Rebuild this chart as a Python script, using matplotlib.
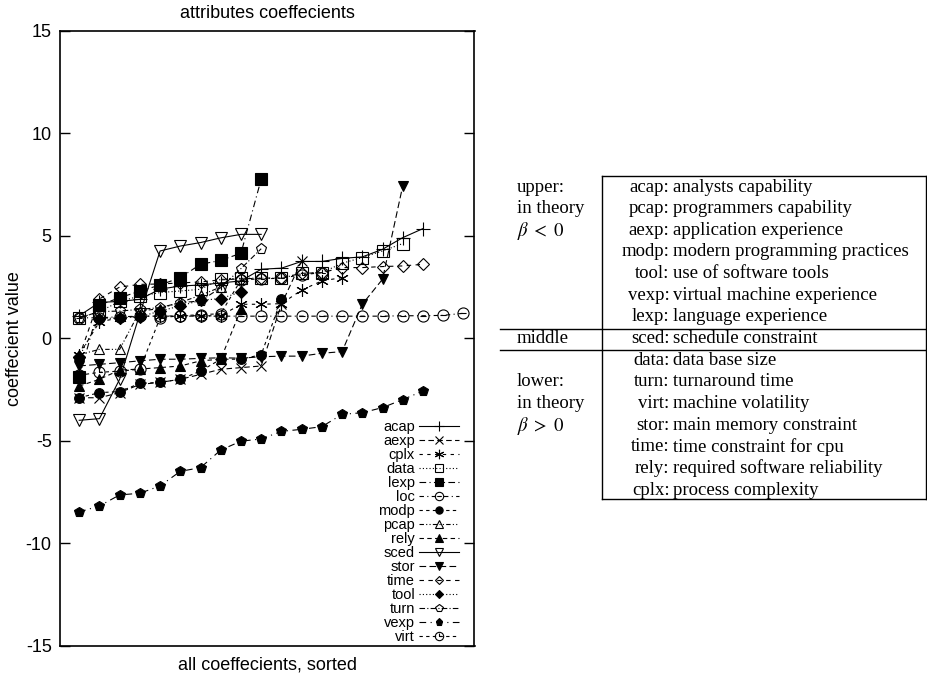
import numpy as np
import matplotlib
matplotlib.use("Agg")
import matplotlib.pyplot as plt
from matplotlib.path import Path

plt.rcParams['font.family'] = ['Liberation Sans', 'DejaVu Sans']
plt.rcParams['mathtext.fontset'] = 'stix'

# ---------------- data (each series sorted ascending) ----------------
acap = [1.1, 1.75, 1.8, 1.9, 2.4, 2.55, 2.6, 2.7, 2.8, 3.37, 3.42, 3.75, 3.75, 3.9, 3.97, 4.34, 4.91, 5.35]
aexp = [-2.9, -2.9, -2.65, -2.25, -2.15, -2.0, -1.76, -1.51, -1.43, -1.35, 1.66, 3.77]
cplx = [-0.8, 0.8, 1.0, 1.08, 1.08, 1.1, 1.1, 1.1, 1.66, 1.66, 1.69, 2.35, 2.8, 2.96]
data = [1.0, 1.3, 1.8, 2.06, 2.23, 2.31, 2.39, 2.88, 2.93, 2.93, 2.93, 3.17, 3.2, 3.66, 3.94, 4.26, 4.62]
lexp = [-1.9, 1.62, 1.98, 2.3, 2.6, 2.96, 3.61, 3.8, 4.15, 7.76]
loc = [1.0, 1.0, 1.05, 1.08, 1.08, 1.08, 1.08, 1.08, 1.08, 1.08, 1.08, 1.08, 1.08, 1.08, 1.08, 1.08, 1.1, 1.1, 1.12, 1.22]
modp = [-2.9, -2.65, -2.6, -2.2, -2.15, -2.0, -1.6, -1.02, -1.02, -0.8, 1.92]
pcap = [-0.8, -0.54, -0.54, 1.33, 1.45, 1.75, 2.1, 2.5]
rely = [-2.33, -2.0, -1.55, -1.5, -1.43, -1.35, -1.1, -1.02, 1.41]
sced = [-4.0, -3.92, -2.0, 1.2, 4.26, 4.5, 4.67, 4.9, 5.07, 5.07]
stor = [-1.35, -1.27, -1.19, -1.1, -1.02, -1.02, -0.98, -0.95, -0.97, -0.9, -0.87, -0.87, -0.73, -0.65, 1.66, 2.88, 7.43]
time = [-0.9, 1.92, 2.5, 2.63, 2.65, 2.7, 2.75, 2.85, 2.9, 2.93, 2.95, 3.17, 3.2, 3.45, 3.45, 3.5, 3.53, 3.61]
tool = [-0.9, 0.95, 1.0, 1.05, 1.33, 1.58, 1.85, 1.94, 2.26]
turn = [1.0, 1.3, 1.33, 1.41, 1.5, 1.74, 1.82, 2.47, 3.4, 4.37]
vexp = [-8.47, -8.18, -7.64, -7.56, -7.2, -6.49, -6.31, -5.45, -5.02, -4.91, -4.54, -4.44, -4.31,
        -3.71, -3.63, -3.38, -2.99, -2.57]
virt = [-1.8, -1.66, -1.6, -1.51, 1.0, 1.1, 1.15, 1.2, 2.85, 2.9, 2.93, 3.1, 3.2]

yticks = [-15, -10, -5, 0, 5, 10, 15]

table_groups = ["upper:", "in theory", r"$\beta \;<\; 0$", "", "", "", "", "middle", "",
                "lower:", "in theory", r"$\beta \;>\; 0$", "", "", ""]
table_keys = ["acap:", "pcap:", "aexp:", "modp:", "tool:", "vexp:", "lexp:", "sced:",
              "data:", "turn:", "virt:", "stor:", "time:", "rely:", "cplx:"]
table_desc = ["analysts capability", "programmers capability", "application experience",
              "modern programming practices", "use of software tools",
              "virtual machine experience", "language experience", "schedule constraint",
              "data base size", "turnaround time", "machine volatility",
              "main memory constraint", "time constraint for cpu",
              "required software reliability", "process complexity"]

# ---------------- custom markers ----------------
circ = Path.unit_circle()
loc_marker = Path.make_compound_path(circ, Path([(-0.55, 0), (0.55, 0)], [Path.MOVETO, Path.LINETO]))
virt_marker = Path.make_compound_path(circ, Path([(0, 0.7), (0, 0), (0.6, 0)],
                                                [Path.MOVETO, Path.LINETO, Path.LINETO]))

series = [
    ("acap", acap, '-', '+', 'k', 10),
    ("aexp", aexp, (0, (5, 3)), 'x', 'k', 7),
    ("cplx", cplx, (0, (3, 4)), (6, 2, 0), 'k', 9),
    ("data", data, (0, (1, 2)), 's', 'none', 8),
    ("lexp", lexp, (0, (6, 3, 1, 3)), 's', 'k', 8),
    ("loc", loc, (0, (4, 3, 1, 3)), loc_marker, 'none', 8),
    ("modp", modp, (0, (3, 3)), 'o', 'k', 7),
    ("pcap", pcap, (0, (4, 2, 1, 2, 1, 2)), '^', 'none', 7),
    ("rely", rely, (0, (4, 3)), '^', 'k', 7),
    ("sced", sced, '-', 'v', 'none', 8),
    ("stor", stor, (0, (6, 3)), 'v', 'k', 7),
    ("time", time, (0, (4, 4)), 'D', 'none', 6),
    ("tool", tool, (0, (1, 2)), 'D', 'k', 6),
    ("turn", turn, (0, (5, 2, 1, 2)), 'p', 'none', 8),
    ("vexp", vexp, (0, (6, 4, 1, 4)), 'p', 'k', 7),
    ("virt", virt, (0, (3, 3)), virt_marker, 'none', 8),
]

fig = plt.figure(figsize=(9.27, 6.77), dpi=100)
ax = fig.add_axes([60 / 927, 1 - 645.8 / 677, (474.5 - 60) / 927, (645.8 - 30.8) / 677])

for name, vals, ls, mk, fc, ms in series:
    x = np.arange(1, len(vals) + 1)
    ax.plot(x, vals, linestyle=ls, color='k', linewidth=0.8, marker=mk,
            markersize=ms, markerfacecolor=fc, markeredgecolor='k',
            markeredgewidth=0.8, label=name)

ax.set_xlim(0.05, 20.55)
ax.set_ylim(-15, 15)
ax.set_yticks(yticks)
ax.set_yticklabels([str(t) for t in yticks])
ax.set_xticks([])
ax.tick_params(axis='y', direction='in', length=7, width=1, right=True, labelsize=13, pad=6)
for s in ax.spines.values():
    s.set_linewidth(1.2)
ax.set_title("attributes coeffecients", fontsize=13, pad=9)
ax.set_ylabel("coeffecient value", fontsize=13, labelpad=2)
ax.set_xlabel("all coeffecients, sorted", fontsize=13, labelpad=8)

leg = ax.legend(loc='lower right', bbox_to_anchor=((461 - 60) / 414.5, 0.0),
                frameon=False, markerfirst=False, fontsize=10.5, markerscale=0.75,
                handlelength=2.7, handletextpad=0.3, labelspacing=0.0,
                borderaxespad=0.0, borderpad=0.15)

# ---------------- table on the right (pixel coordinates overlay) ----------------
ov = fig.add_axes([0, 0, 1, 1])
ov.set_xlim(0, 927)
ov.set_ylim(677, 0)
ov.axis('off')

lw = 1.0
top, bottom = 176, 499
xv, xr, xl = 602, 926, 500
ov.plot([xv, xr], [top, top], color='k', lw=lw)
ov.plot([xv, xr], [bottom, bottom], color='k', lw=lw)
ov.plot([xv, xv], [top, bottom], color='k', lw=lw)
ov.plot([xr, xr], [top, bottom], color='k', lw=lw)
ov.plot([xl, xr], [329, 329], color='k', lw=lw)
ov.plot([xl, xr], [350, 350], color='k', lw=lw)

row0, dy = 185, 21.65
serif = ['Liberation Serif', 'DejaVu Serif']
for i, (g, k, d) in enumerate(zip(table_groups, table_keys, table_desc)):
    yy = row0 + i * dy
    if g:
        ov.text(517, yy, g, ha='left', va='center_baseline', fontsize=13.5, family=serif)
    ov.text(669.5, yy, k, ha='right', va='center_baseline', fontsize=13.5, family=serif)
    ov.text(673, yy, d, ha='left', va='center_baseline', fontsize=13.5, family=serif)

fig.savefig("out.png", dpi=100)
